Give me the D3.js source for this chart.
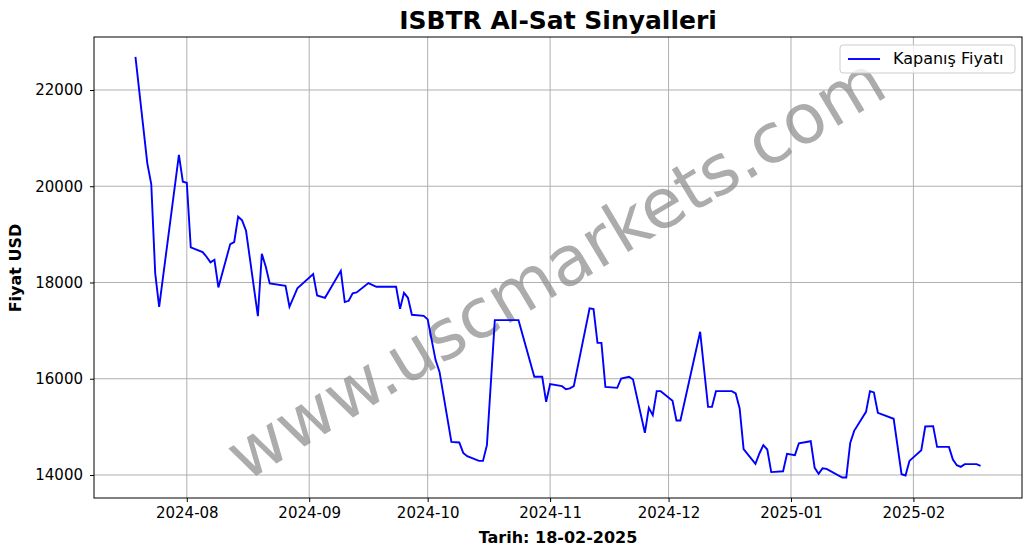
<!DOCTYPE html>
<html>
<head>
<meta charset="utf-8">
<script src="https://cdn.jsdelivr.net/npm/d3@7"></script>
<style>
body { margin: 0; background: #fff; }
text { font-family: "DejaVu Sans", sans-serif; }
</style>
</head>
<body>
<svg width="1033" height="554"></svg>
<script>
let width = 1033, height = 554;
let margin = {left: 94, right: 11, top: 37, bottom: 56};

let dates = ["2024-07-19","2024-07-22","2024-07-23","2024-07-24","2024-07-25","2024-07-30","2024-07-31","2024-08-01","2024-08-02","2024-08-05",
  "2024-08-06","2024-08-07","2024-08-08","2024-08-09","2024-08-12","2024-08-13","2024-08-14","2024-08-15","2024-08-16","2024-08-19",
  "2024-08-20","2024-08-21","2024-08-22","2024-08-26","2024-08-27","2024-08-29","2024-09-02","2024-09-03","2024-09-05","2024-09-09",
  "2024-09-10","2024-09-11","2024-09-12","2024-09-13","2024-09-16","2024-09-18","2024-09-23","2024-09-24","2024-09-25","2024-09-26",
  "2024-09-27","2024-09-30","2024-10-01","2024-10-03","2024-10-04","2024-10-07","2024-10-09","2024-10-10","2024-10-11","2024-10-14",
  "2024-10-15","2024-10-16","2024-10-18","2024-10-24","2024-10-28","2024-10-30","2024-10-31","2024-11-01","2024-11-04","2024-11-05",
  "2024-11-06","2024-11-07","2024-11-11","2024-11-12","2024-11-13","2024-11-14","2024-11-15","2024-11-18","2024-11-19","2024-11-21",
  "2024-11-22","2024-11-25","2024-11-26","2024-11-27","2024-11-28","2024-11-29","2024-12-02","2024-12-03","2024-12-04","2024-12-09",
  "2024-12-10","2024-12-11","2024-12-12","2024-12-13","2024-12-17","2024-12-18","2024-12-19","2024-12-20","2024-12-23","2024-12-24",
  "2024-12-25","2024-12-26","2024-12-27","2024-12-30","2024-12-31","2025-01-02","2025-01-03","2025-01-06","2025-01-07","2025-01-08",
  "2025-01-09","2025-01-10","2025-01-14","2025-01-15","2025-01-16","2025-01-17","2025-01-20","2025-01-21","2025-01-22","2025-01-23",
  "2025-01-27","2025-01-29","2025-01-30","2025-01-31","2025-02-03","2025-02-04","2025-02-06","2025-02-07","2025-02-10","2025-02-11",
  "2025-02-12","2025-02-13","2025-02-14","2025-02-17","2025-02-18"];

let closes = [22690,20476,20046,18190,17495,20650,20094,20073,18730,18632,
  18535,18418,18472,17898,18798,18840,19366,19291,19075,17302,
  18597,18327,17981,17931,17495,17877,18175,17732,17682,18243,
  17593,17620,17773,17794,17988,17911,17911,17453,17786,17682,
  17329,17308,17233,16387,16143,14688,14676,14460,14391,14293,
  14293,14620,17218,17218,16040,16040,15520,15888,15846,15784,
  15800,15846,17462,17447,16746,16746,15832,15811,16006,16040,
  15985,14877,15395,15243,15742,15742,15541,15133,15133,16975,
  16192,15416,15416,15742,15742,15695,15383,14536,14231,14447,
  14620,14530,14060,14078,14439,14412,14660,14702,14148,14023,
  14141,14127,13948,13948,14668,14917,15312,15742,15715,15293,
  15168,14017,13990,14293,14516,15007,15015,14584,14584,14322,
  14204,14169,14225,14225,14190];

let yTicks = [14000, 16000, 18000, 20000, 22000];
let xTickDates = ["2024-08-01","2024-09-01","2024-10-01","2024-11-01","2024-12-01","2025-01-01","2025-02-01"];

let parse = d3.timeParse("%Y-%m-%d");
let data = dates.map((d, i) => ({date: parse(d), close: closes[i]}));

let svg = d3.select("svg");

let x = d3.scaleTime()
    .domain([new Date(2024, 6, 8, 12), new Date(2025, 1, 28, 12)])
    .range([margin.left, width - margin.right]);
let y = d3.scaleLinear()
    .domain([13522, 23101])
    .range([height - margin.bottom, margin.top]);

// grid
svg.append("g").selectAll("line").data(xTickDates).enter().append("line")
    .attr("x1", d => x(parse(d))).attr("x2", d => x(parse(d)))
    .attr("y1", margin.top).attr("y2", height - margin.bottom)
    .attr("stroke", "#b0b0b0").attr("stroke-width", 1);
svg.append("g").selectAll("line").data(yTicks).enter().append("line")
    .attr("x1", margin.left).attr("x2", width - margin.right)
    .attr("y1", d => y(d)).attr("y2", d => y(d))
    .attr("stroke", "#b0b0b0").attr("stroke-width", 1);

// watermark
svg.append("text")
    .attr("transform", "translate(558,272) rotate(-31)")
    .attr("text-anchor", "middle").attr("dominant-baseline", "middle")
    .style("font-size", "69px").attr("fill", "#8a8a8a").attr("opacity", 0.7)
    .text("www.uscmarkets.com");

// price line
svg.append("path")
    .datum(data)
    .attr("fill", "none")
    .attr("stroke", "blue")
    .attr("stroke-width", 1.9)
    .attr("d", d3.line().x(d => x(d.date)).y(d => y(d.close)));

// axes
let xAxis = svg.append("g")
    .attr("transform", "translate(0," + (height - margin.bottom) + ")")
    .call(d3.axisBottom(x).tickValues(xTickDates.map(parse)).tickFormat(d3.timeFormat("%Y-%m")).tickSizeOuter(0).tickSize(4).tickPadding(5));
let yAxis = svg.append("g")
    .attr("transform", "translate(" + margin.left + ",0)")
    .call(d3.axisLeft(y).tickValues(yTicks).tickFormat(d3.format("d")).tickSizeOuter(0).tickSize(4).tickPadding(7));
[xAxis, yAxis].forEach(a => {
    a.selectAll("text").style("font-size", "15px").attr("fill", "#000");
    a.select(".domain").remove();
});

svg.append("rect")
    .attr("x", margin.left).attr("y", margin.top)
    .attr("width", width - margin.left - margin.right)
    .attr("height", height - margin.top - margin.bottom)
    .attr("fill", "none").attr("stroke", "#000").attr("stroke-width", 1);

// titles
svg.append("text").attr("x", 558).attr("y", 29).attr("text-anchor", "middle")
    .style("font-size", "25px").style("font-weight", "bold").text("ISBTR Al-Sat Sinyalleri");
svg.append("text").attr("x", 558).attr("y", 543).attr("text-anchor", "middle")
    .style("font-size", "16px").style("font-weight", "bold").text("Tarih: 18-02-2025");
svg.append("text").attr("transform", "translate(21,268) rotate(-90)").attr("text-anchor", "middle")
    .style("font-size", "16px").style("font-weight", "bold").text("Fiyat USD");

// legend
let lg = svg.append("g");
lg.append("rect").attr("x", 840).attr("y", 45).attr("width", 175).attr("height", 28).attr("rx", 3)
    .attr("fill", "#fff").attr("fill-opacity", 0.8).attr("stroke", "#ccc");
lg.append("line").attr("x1", 848).attr("x2", 880).attr("y1", 59).attr("y2", 59)
    .attr("stroke", "blue").attr("stroke-width", 1.9);
lg.append("text").attr("x", 893).attr("y", 64).style("font-size", "16px").text("Kapanış Fiyatı");
</script>
</body>
</html>
